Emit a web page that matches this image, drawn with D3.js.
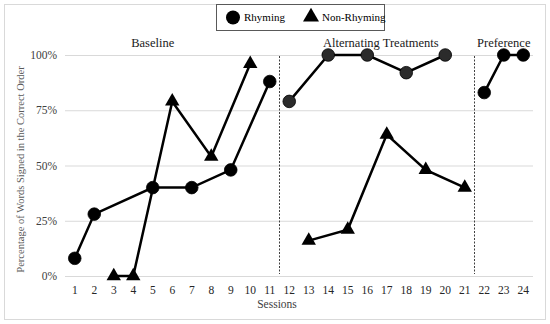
<!DOCTYPE html>
<html>
<head>
<meta charset="utf-8">
<script src="https://cdn.jsdelivr.net/npm/d3@7"></script>
<style>
  body { margin: 0; background: #fff; }
  svg, svg text { font-family: "Liberation Serif", Tinos, "Times New Roman", "DejaVu Serif", serif; }
</style>
</head>
<body>
<svg id="chart" width="550" height="324"></svg>
<script>
// sessions on the x axis (categorical)
const sessions = d3.range(1, 25).map(String);
// percent correct, null where the session had no probe for that list
const rhyming = [8, 28, null, null, 40, null, 40, null, 48, null, 88,
                 79, null, 100, null, 100, null, 92, null, 100, null,
                 83, 100, 100];
const nonRhyming = [null, null, 0, 0, null, 79, null, 54, null, 96, null,
                    null, 16, null, 21, null, 64, null, 48, null, 40,
                    null, null, null];
const phaseNames = ["Baseline", "Alternating Treatments", "Preference"];
const phaseStarts = ["1", "12", "22"];   // first session of each phase
const yTicks = [0, 25, 50, 75, 100];

const FONT = '"Liberation Serif", Tinos, "Times New Roman", "DejaVu Serif", serif';

const svg = d3.select("#chart");
const W = 550, H = 324;
const margin = {top: 55, right: 17, bottom: 48, left: 65};

svg.append("rect")
    .attr("x", 4.5).attr("y", 4.5)
    .attr("width", W - 9).attr("height", H - 9)
    .attr("fill", "#fff").attr("stroke", "#d9d9d9");

const x = d3.scaleBand()
    .domain(sessions)
    .range([margin.left, W - margin.right]);

const y = d3.scaleLinear()
    .domain([0, 100])
    .range([H - margin.bottom, margin.top]);

// phase of each session
const phaseIdx = s => d3.bisectRight(phaseStarts.map(Number), +s) - 1;

// gridlines
svg.append("g")
    .selectAll("line")
    .data(yTicks)
    .join("line")
    .attr("x1", x.range()[0]).attr("x2", x.range()[1])
    .attr("y1", d => y(d) + 0.5).attr("y2", d => y(d) + 0.5)
    .attr("stroke", "#d9d9d9");

// y axis labels
const yAxis = svg.append("g")
    .attr("transform", `translate(${margin.left},0)`)
    .call(d3.axisLeft(y).tickValues(yTicks).tickFormat(d => d + "%").tickSize(0).tickPadding(8));
yAxis.attr("font-family", FONT);
yAxis.select(".domain").remove();
yAxis.selectAll("text")
    .attr("font-size", 11.5).attr("fill", "#404040");

// x axis labels
const xAxis = svg.append("g")
    .attr("transform", `translate(0,${H - margin.bottom})`)
    .call(d3.axisBottom(x).tickSize(0).tickPadding(10));
xAxis.attr("font-family", FONT);
xAxis.select(".domain").remove();
xAxis.selectAll("text")
    .attr("font-size", 11.5).attr("fill", "#262626");

// axis titles
svg.append("text")
    .attr("transform", `translate(24,${(y(0) + y(100)) / 2 + 4}) rotate(-90)`)
    .attr("text-anchor", "middle")
    .attr("font-family", FONT)
    .attr("font-size", 10.5).attr("fill", "#595959")
    .text("Percentage of Words Signed in the Correct Order");

svg.append("text")
    .attr("x", 277).attr("y", 308)
    .attr("text-anchor", "middle")
    .attr("font-family", FONT)
    .attr("font-size", 11.5).attr("fill", "#404040")
    .text("Sessions");

// phase change lines
svg.append("g")
    .selectAll("line")
    .data(phaseStarts.slice(1))
    .join("line")
    .attr("x1", d => Math.round(x(d)) - 0.5).attr("x2", d => Math.round(x(d)) - 0.5)
    .attr("y1", y(100) + 1).attr("y2", y(0) - 2)
    .attr("stroke", "#404040").attr("stroke-width", 1)
    .attr("stroke-dasharray", "2,1.5");

// phase titles, centred over a session of each phase
const titleAt = ["5", "17", "23"];
svg.append("g")
    .selectAll("text")
    .data(phaseNames)
    .join("text")
    .attr("x", (d, i) => x(titleAt[i]) + x.bandwidth() / 2 + (i === 1 ? -6 : 0))
    .attr("y", 47)
    .attr("text-anchor", "middle")
    .attr("font-family", FONT)
    .attr("font-size", 12.5).attr("fill", "#1a1a1a")
    .text(d => d);

const cx = s => x(s) + x.bandwidth() / 2;

function drawSeries(values, marker) {
    const pts = sessions.map((s, i) => ({s, v: values[i]})).filter(d => d.v !== null);
    const groups = d3.groups(pts, d => phaseIdx(d.s));
    const line = d3.line().x(d => cx(d.s)).y(d => y(d.v));
    const g = svg.append("g");
    g.selectAll("path.ln")
        .data(groups)
        .join("path")
        .attr("class", "ln")
        .attr("d", d => line(d[1]))
        .attr("fill", "none").attr("stroke", "#000")
        .attr("stroke-width", 2.5).attr("stroke-linejoin", "miter");
    if (marker === "circle") {
        g.selectAll("circle")
            .data(pts)
            .join("circle")
            .attr("cx", d => cx(d.s)).attr("cy", d => y(d.v))
            .attr("r", 6.3)
            .attr("fill", d => phaseIdx(d.s) === 1 ? "#2b2b2b" : "#000")
            .attr("stroke", "#000").attr("stroke-width", 0.8);
    } else {
        const tri = d3.symbol(d3.symbolTriangle, 90);
        g.selectAll("path.mk")
            .data(pts)
            .join("path")
            .attr("class", "mk")
            .attr("transform", d => `translate(${cx(d.s)},${y(d.v)})`)
            .attr("d", tri)
            .attr("fill", "#000");
    }
}

drawSeries(nonRhyming, "triangle");
drawSeries(rhyming, "circle");

// legend
const leg = svg.append("g").attr("font-family", FONT);
leg.append("rect")
    .attr("x", 216.5).attr("y", 4.5)
    .attr("width", 168).attr("height", 26)
    .attr("fill", "#fff").attr("stroke", "#595959");
leg.append("circle")
    .attr("cx", 233).attr("cy", 17.5).attr("r", 7)
    .attr("fill", "#000");
leg.append("text")
    .attr("x", 244).attr("y", 21)
    .attr("font-size", 11).attr("fill", "#000")
    .text("Rhyming");
leg.append("path")
    .attr("transform", "translate(311,17)")
    .attr("d", d3.symbol(d3.symbolTriangle, 110))
    .attr("fill", "#000");
leg.append("text")
    .attr("x", 322).attr("y", 21)
    .attr("font-size", 11).attr("fill", "#000")
    .text("Non-Rhyming");
</script>
</body>
</html>
